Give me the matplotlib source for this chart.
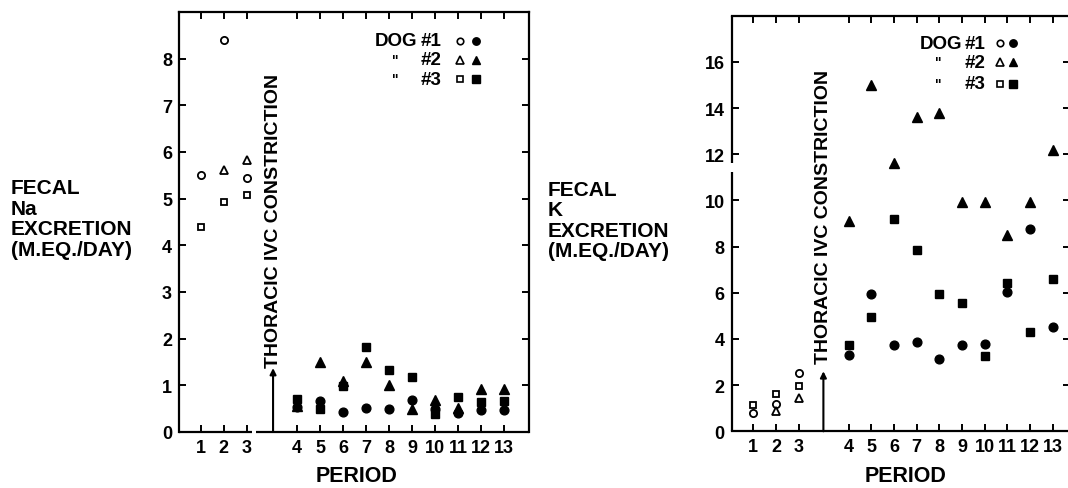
import matplotlib
matplotlib.use('Agg')
import matplotlib.pyplot as plt
import numpy as np

plt.rcParams['font.family'] = ['Liberation Sans', 'DejaVu Sans']
plt.rcParams['font.weight'] = 'bold'

# ---------------- data ----------------
pre_periods = [1, 2, 3]
post_periods = [4, 5, 6, 7, 8, 9, 10, 11, 12, 13]
period_labels = [str(p) for p in pre_periods + post_periods]

# Fecal Na excretion (m.eq./day)
na_pre_dog1 = [5.50, 8.40, 5.45]
na_pre_dog2 = [np.nan, 5.62, 5.82]
na_pre_dog3 = [4.40, 4.93, 5.07]
na_post_dog1 = [0.53, 0.67, 0.42, 0.52, 0.50, 0.68, 0.50, 0.40, 0.47, 0.47]
na_post_dog2 = [0.55, 1.51, 1.09, 1.51, 1.00, 0.49, 0.69, 0.52, 0.92, 0.92]
na_post_dog3 = [0.70, 0.50, 0.99, 1.82, 1.32, 1.18, 0.38, 0.74, 0.65, 0.66]

# Fecal K excretion (m.eq./day)
k_pre_dog1 = [0.78, 1.18, 2.53]
k_pre_dog2 = [np.nan, 0.87, 1.43]
k_pre_dog3 = [1.16, 1.62, 1.98]
k_post_dog1 = [3.31, 5.96, 3.72, 3.86, 3.11, 3.72, 3.79, 6.03, 8.78, 4.51]
k_post_dog2 = [9.10, 15.02, 11.61, 13.62, 13.78, 9.93, 9.93, 8.52, 9.91, 12.18]
k_post_dog3 = [3.72, 4.97, 9.21, 7.87, 5.96, 5.55, 3.28, 6.44, 4.32, 6.58]

na_yticks = [0, 1, 2, 3, 4, 5, 6, 7, 8]
k_yticks = [0, 2, 4, 6, 8, 10, 12, 14, 16]

# ---------------- layout ----------------
GAP = 1.2  # extra space on the axis after the constriction
def xpos(periods):
    return [p if p <= 3 else p + GAP for p in periods]

xpre = xpos(pre_periods)
xpost = xpos(post_periods)
xall = xpre + xpost

fig = plt.figure(figsize=(10.68, 4.89), dpi=100)
W, H = 1068, 489

def add_axes(l, r, t, b):
    return fig.add_axes([l / W, 1 - b / H, (r - l) / W, (b - t) / H])

axL = add_axes(179, 529, 13, 433)
axR = add_axes(731.7, 1070, 16.7, 432.3)

LW = 1.6
SIZES = {'o': 6.3, '^': 7.5, 's': 6.3}
OPEN_SIZES = {'o': 5.2, '^': 6.2, 's': 5.0}

def style(ax, xlim, ylim, yticks):
    ax.set_xlim(*xlim)
    ax.set_ylim(*ylim)
    ax.set_xticks(xall)
    ax.set_xticklabels(period_labels)
    ax.set_yticks(yticks)
    ax.set_yticklabels([str(v) for v in yticks])
    ax.tick_params(direction='in', top=True, right=True, length=5, width=1.4,
                   labelsize=13, pad=5)
    for s in ax.spines.values():
        s.set_linewidth(LW)

def plot_panel(ax, pre, post):
    for vals, m in zip(pre, ['o', '^', 's']):
        ax.plot(xpre, vals, marker=m, ls='none', mfc='white', mec='black',
                mew=1.3, ms=OPEN_SIZES[m])
    for vals, m in zip(post, ['o', '^', 's']):
        ax.plot(xpost, vals, marker=m, ls='none', mfc='black', mec='black',
                mew=1.0, ms=SIZES[m])

def legend(ax, x_dog, x_ditto, x_num, x_open, x_fill, rows):
    fs = 13.5
    ax.text(x_dog, rows[0], 'DOG', transform=ax.transAxes, fontsize=fs,
            fontweight='bold', ha='left', va='center')
    for i, y in enumerate(rows):
        ax.text(x_num, y, '#%d' % (i + 1), transform=ax.transAxes, fontsize=fs,
                fontweight='bold', ha='left', va='center')
        if i > 0:
            ax.text(x_ditto, y, '"', transform=ax.transAxes, fontsize=10,
                    fontweight='bold', ha='center', va='center')
    for y, m in zip(rows, ['o', '^', 's']):
        ax.plot([x_open], [y], marker=m, transform=ax.transAxes, clip_on=False,
                ls='none', mfc='white', mec='black', mew=1.2,
                ms=OPEN_SIZES[m] * 0.9)
        ax.plot([x_fill], [y], marker=m, transform=ax.transAxes, clip_on=False,
                ls='none', mfc='black', mec='black', ms=SIZES[m] * 0.85)

# ---------- left panel (Na) ----------
style(axL, (0.056, 15.29), (0, 9.0), na_yticks)
axL.spines['bottom'].set_visible(False)
tr = axL.get_xaxis_transform()
axL.plot([0.056, 3.23], [0, 0], color='black', lw=LW, transform=tr, clip_on=False,
         solid_capstyle='butt')
axL.plot([3.41, 15.29], [0, 0], color='black', lw=LW, transform=tr, clip_on=False,
         solid_capstyle='butt')
plot_panel(axL, (na_pre_dog1, na_pre_dog2, na_pre_dog3),
           (na_post_dog1, na_post_dog2, na_post_dog3))
axL.annotate('', xy=(4.15, 1.37), xytext=(4.15, 0),
             arrowprops=dict(arrowstyle='-|>', lw=1.5, color='black',
                             mutation_scale=9, shrinkA=0, shrinkB=0))
axL.text(4.15, 1.40, 'THORACIC IVC CONSTRICTION', rotation=90, ha='center',
         va='bottom', fontsize=14, fontweight='bold')
legend(axL, 0.56, 0.617, 0.690, 0.803, 0.849, [0.932, 0.886, 0.840])

# ---------- right panel (K) ----------
style(axR, (0.048, 14.96), (0, 18.0), k_yticks)
axR.spines['left'].set_visible(False)
tr = axR.get_yaxis_transform()
axR.plot([0, 0], [0, 11.25], color='black', lw=LW, transform=tr, clip_on=False,
         solid_capstyle='butt')
axR.plot([0, 0], [11.6, 18.0], color='black', lw=LW, transform=tr, clip_on=False,
         solid_capstyle='butt')
plot_panel(axR, (k_pre_dog1, k_pre_dog2, k_pre_dog3),
           (k_post_dog1, k_post_dog2, k_post_dog3))
axR.annotate('', xy=(4.09, 2.6), xytext=(4.09, 0),
             arrowprops=dict(arrowstyle='-|>', lw=1.5, color='black',
                             mutation_scale=9, shrinkA=0, shrinkB=0))
axR.text(4.09, 2.95, 'THORACIC IVC CONSTRICTION', rotation=90, ha='center',
         va='bottom', fontsize=14, fontweight='bold')
legend(axR, 0.557, 0.610, 0.688, 0.793, 0.831, [0.934, 0.888, 0.836])

# ---------- axis titles ----------
fig.text(11 / W, 1 - 219.5 / H, 'FECAL\nNa\nEXCRETION\n(M.EQ./DAY)', ha='left',
         va='center', fontsize=15, fontweight='bold', linespacing=1.1)
fig.text(548 / W, 1 - 221 / H, 'FECAL\nK\nEXCRETION\n(M.EQ./DAY)', ha='left',
         va='center', fontsize=15, fontweight='bold', linespacing=1.1)
fig.text(357 / W, 1 - 477 / H, 'PERIOD', ha='center', va='center', fontsize=15.5,
         fontweight='bold')
fig.text(906 / W, 1 - 477 / H, 'PERIOD', ha='center', va='center', fontsize=15.5,
         fontweight='bold')

fig.savefig('out.png', dpi=100, facecolor='white')
